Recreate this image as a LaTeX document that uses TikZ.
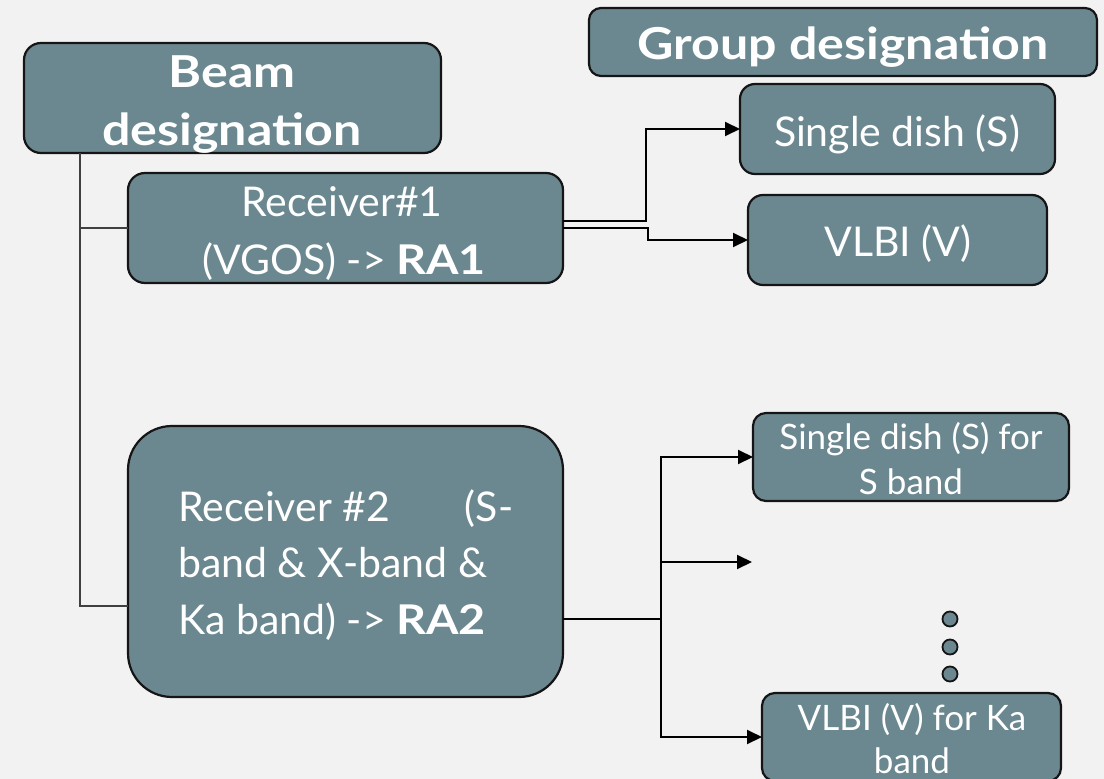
\documentclass[tikz,border=0pt]{standalone}
\usepackage{fontspec}
\setmainfont{Lato}[BoldFeatures={FakeStretch=1.14}]
\usetikzlibrary{arrows.meta,calc}
\definecolor{bg}{HTML}{F2F2F2}
\definecolor{boxfill}{HTML}{6B8890}
\definecolor{edge}{HTML}{151515}
\begin{document}
\begin{tikzpicture}[x=1pt,y=-1pt,
  box/.style={draw=edge,line width=2.2pt,fill=boxfill,inner sep=0pt,outer sep=0pt},
  big/.style={text=white,inner sep=0pt,font=\fontsize{41}{48}\selectfont,text height=29pt,text depth=0pt},
  bigb/.style={big,font=\fontsize{44}{52}\selectfont\bfseries,text height=31pt},
  small/.style={text=white,inner sep=0pt,font=\fontsize{35}{42}\selectfont,text height=25pt,text depth=0pt},
  thinline/.style={draw=black!75,line width=1.1pt},
  conn/.style={draw=black,line width=2pt},
  arr/.style={conn,-{Triangle[length=15pt,width=14pt]}},
  dotn/.style={circle,draw=edge,line width=1.8pt,fill=boxfill,minimum size=15pt,inner sep=0pt}]
\path[use as bounding box,fill=bg] (0,0) rectangle (1104,779);
\clip (0,0) rectangle (1104,779);

% boxes
\node[box,rounded corners=17pt,minimum width=417pt,minimum height=110pt] (beam) at (232.5,98) {};
\node[box,rounded corners=12pt,minimum width=508pt,minimum height=68pt] (group) at (843,42) {};
\node[box,rounded corners=17pt,minimum width=435pt,minimum height=110pt] (rec1) at (345.5,228) {};
\node[box,rounded corners=15pt,minimum width=315pt,minimum height=90pt] (sd) at (897.5,129) {};
\node[box,rounded corners=15pt,minimum width=299pt,minimum height=90pt] (vlbi) at (897.5,240) {};
\node[box,rounded corners=44pt,minimum width=435pt,minimum height=271pt] (rec2) at (345.5,561.5) {};
\node[box,rounded corners=13pt,minimum width=316pt,minimum height=88pt] (sds) at (911,457) {};
\node[box,rounded corners=13pt,minimum width=299pt,minimum height=88pt] (vka) at (911.5,737) {};

% texts
\node[bigb] (beamA) at (232,72) {Beam};
\node[bigb] (beamB) at (232,130) {designation};
\node[bigb] (groupT) at (843,44) {Group designation};
\node[big] (rec1A) at (342,202) {Receiver\#1};
\node[big] (rec1B) at (344,260) {(VGOS) -> \textbf{RA1}};
\node[big] (sdT) at (897,132) {Single dish (S)};
\node[big] (vlbiT) at (898,242) {VLBI (V)};
\node[big,anchor=west] (rec2A) at (178,507) {\hbox to 335pt{Receiver \#2\hfill(S-}};
\node[big,anchor=west] (rec2B) at (178,563) {band \& X-band \&};
\node[big,anchor=west] (rec2C) at (178,620) {Ka band) -> \textbf{RA2}};
\node[small] (sdsA) at (911,437) {Single dish (S) for};
\node[small] (sdsB) at (911,482) {S band};
\node[small] (vkaA) at (912,718) {VLBI (V) for Ka};
\node[small] (vkaB) at (912,761) {band};

% dots
\node[dotn] (d1) at (950,619) {};
\node[dotn] (d2) at (950,647) {};
\node[dotn] (d3) at (950,674) {};

% left tree
\coordinate (trunk) at (80,606);
\draw[thinline] (beam.south -| trunk) |- (rec1.west);
\draw[thinline] (beam.south -| trunk) |- (rec2.west |- trunk);

% receiver 1 outputs
\draw[arr] ([yshift=7pt]rec1.east) -- ++(83,0) |- (sd.west);
\draw[arr] (rec1.east) -- ++(85,0) |- (vlbi.west);

% receiver 2 outputs
\coordinate (hub) at (661,619);
\coordinate (free) at (752,562);
\draw[conn] (rec2.east |- hub) -- (hub);
\draw[arr] (hub) |- (sds.west);
\draw[arr] (hub) |- (vka.west);
\draw[arr] (hub |- free) -- (free);
\end{tikzpicture}
\end{document}
